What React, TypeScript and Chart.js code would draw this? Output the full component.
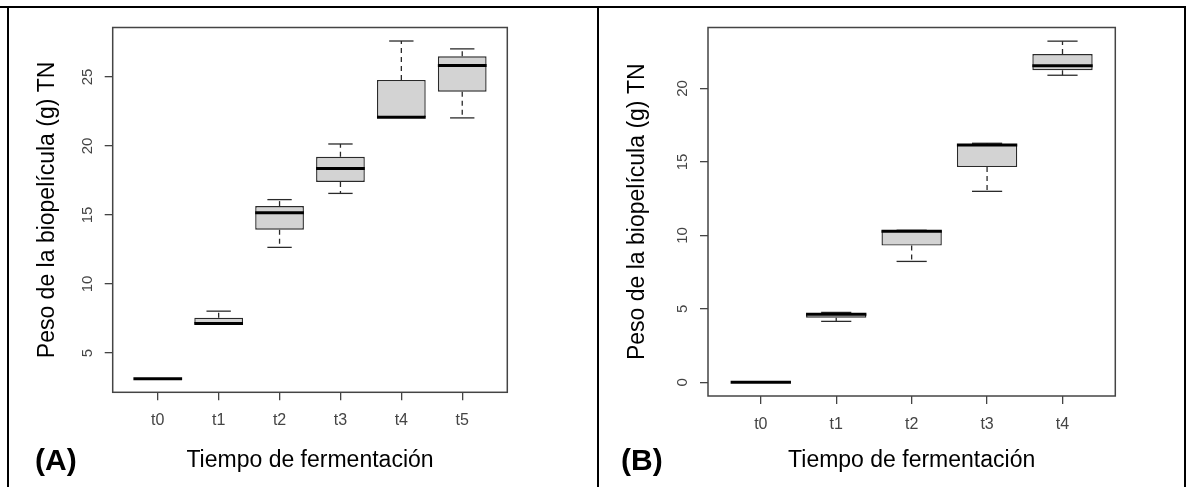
import React, { useEffect, useRef } from "react";
import { Chart, registerables } from "chart.js";

Chart.register(...registerables);

// ---------- Data ----------
const catsA = ["t0", "t1", "t2", "t3", "t4", "t5"];
const minA = [3.13, 7.11, 12.65, 16.56, 22.08, 22.03];
const q1A = [3.13, 7.11, 13.93, 17.39, 22.08, 23.93];
const medA = [3.13, 7.13, 15.16, 18.36, 22.08, 25.82];
const q3A = [3.13, 7.56, 15.64, 19.21, 24.78, 26.49];
const maxA = [3.13, 8.03, 16.11, 20.14, 27.6, 27.03];
const yTicksA = [5, 10, 15, 20, 25];

const catsB = ["t0", "t1", "t2", "t3", "t4"];
const minB = [0, 4.15, 8.23, 13.0, 20.9];
const q1B = [0, 4.4, 9.31, 14.65, 21.24];
const medB = [0, 4.64, 10.28, 16.15, 21.55];
const q3B = [0, 4.68, 10.35, 16.2, 22.34];
const maxB = [0, 4.76, 10.35, 16.27, 23.22];
const yTicksB = [0, 5, 10, 15, 20];

const yTitle = "Peso de la biopelícula (g) TN";
const xTitle = "Tiempo de fermentación";
const panelLabels = ["(A)", "(B)"];

const FAMILY = "'Liberation Sans', Arial, Helvetica, sans-serif";

type Stats = {
  cats: string[];
  mins: number[];
  q1s: number[];
  meds: number[];
  q3s: number[];
  maxs: number[];
  yTicks: number[];
};

type Layout = {
  width: number;
  height: number;
  padTop: number;
  padRight: number;
  yWidth: number;
  xHeight: number;
};

function makeBoxPlugin(st: Stats) {
  return {
    id: "boxExtras",
    afterDatasetsDraw(chart: any) {
      const { ctx, chartArea } = chart;
      const y = chart.scales.y;
      const meta = chart.getDatasetMeta(0);
      ctx.save();
      const line = (x1: number, y1: number, x2: number, y2: number) => {
        ctx.beginPath();
        ctx.moveTo(x1, y1);
        ctx.lineTo(x2, y2);
        ctx.stroke();
      };
      st.cats.forEach((_c, i) => {
        const el = meta.data[i];
        const { x: cx, width: w } = el.getProps(["x", "width"], true);
        const half = w / 2;
        const cap = w / 4;
        const yMin = y.getPixelForValue(st.mins[i]);
        const yQ1 = y.getPixelForValue(st.q1s[i]);
        const yMed = y.getPixelForValue(st.meds[i]);
        const yQ3 = y.getPixelForValue(st.q3s[i]);
        const yMax = y.getPixelForValue(st.maxs[i]);
        ctx.strokeStyle = "#2a2a2a";
        ctx.lineWidth = 1.3;
        ctx.setLineDash([5, 4]);
        if (yQ3 - yMax > 0.5) line(cx, yQ3, cx, yMax);
        if (yMin - yQ1 > 0.5) line(cx, yQ1, cx, yMin);
        ctx.setLineDash([]);
        line(cx - cap, yMax, cx + cap, yMax);
        line(cx - cap, yMin, cx + cap, yMin);
        ctx.strokeStyle = "#000";
        ctx.lineWidth = 3;
        line(cx - half, yMed, cx + half, yMed);
      });
      ctx.strokeStyle = "#444";
      ctx.lineWidth = 1.5;
      ctx.strokeRect(
        chartArea.left,
        chartArea.top,
        chartArea.right - chartArea.left,
        chartArea.bottom - chartArea.top
      );
      ctx.restore();
    },
  };
}

function BoxChart({ st, lay }: { st: Stats; lay: Layout }) {
  const ref = useRef<HTMLCanvasElement | null>(null);
  useEffect(() => {
    if (!ref.current) return;
    const n = st.cats.length;
    const all = [...st.mins, ...st.maxs];
    const lo = Math.min(...all);
    const hi = Math.max(...all);
    const pad = 0.04 * (hi - lo);
    const chart = new Chart(ref.current, {
      type: "bar",
      data: {
        datasets: [
          {
            data: st.cats.map((_c, i) => ({ x: i + 1, y: [st.q1s[i], st.q3s[i]] })) as any,
            backgroundColor: "#d3d3d3",
            borderColor: "#2a2a2a",
            borderWidth: 1.4,
            borderSkipped: false,
            categoryPercentage: 1,
            barPercentage: 0.8,
          },
        ],
      },
      options: {
        animation: false,
        responsive: false,
        devicePixelRatio: 1,
        layout: { padding: { top: lay.padTop, right: lay.padRight, left: 0, bottom: 0 } },
        plugins: { legend: { display: false }, tooltip: { enabled: false } },
        scales: {
          x: {
            type: "linear",
            min: 0.5 - 0.04 * n,
            max: n + 0.5 + 0.04 * n,
            offset: false,
            afterBuildTicks: (s: any) => {
              s.ticks = st.cats.map((_c, i) => ({ value: i + 1 }));
            },
            afterFit: (s: any) => {
              s.height = lay.xHeight;
            },
            ticks: {
              callback: (v: any) => st.cats[Math.round(v) - 1] ?? "",
              font: { size: 16, family: FAMILY },
              color: "#444",
              padding: 11,
              maxRotation: 0,
              autoSkip: false,
            },
            grid: {
              display: true,
              drawOnChartArea: false,
              drawTicks: true,
              tickLength: 8,
              color: "#444",
              lineWidth: 1.3,
              offset: false,
            },
            border: { display: false },
            title: {
              display: true,
              text: xTitle,
              font: { size: 23, family: FAMILY },
              color: "#000",
              padding: { top: 0, bottom: 6 },
            },
          } as any,
          y: {
            type: "linear",
            min: lo - pad,
            max: hi + pad,
            afterBuildTicks: (s: any) => {
              s.ticks = st.yTicks.map((v) => ({ value: v }));
            },
            afterFit: (s: any) => {
              s.width = lay.yWidth;
            },
            ticks: {
              minRotation: 90,
              maxRotation: 90,
              crossAlign: "center",
              padding: 8.5,
              font: { size: 15, family: FAMILY },
              color: "#444",
              autoSkip: false,
            },
            grid: {
              display: true,
              drawOnChartArea: false,
              drawTicks: true,
              tickLength: 8,
              color: "#444",
              lineWidth: 1.3,
            },
            border: { display: false },
            title: {
              display: true,
              text: yTitle,
              font: { size: 23, family: FAMILY },
              color: "#000",
              padding: { top: 24, bottom: 0 },
            },
          } as any,
        },
      },
      plugins: [makeBoxPlugin(st)],
    });
    return () => chart.destroy();
  }, [st, lay]);
  return <canvas ref={ref} width={lay.width} height={lay.height} style={{ display: "block" }} />;
}

const statsA: Stats = { cats: catsA, mins: minA, q1s: q1A, meds: medA, q3s: q3A, maxs: maxA, yTicks: yTicksA };
const statsB: Stats = { cats: catsB, mins: minB, q1s: q1B, meds: medB, q3s: q3B, maxs: maxB, yTicks: yTicksB };
const layA: Layout = { width: 580, height: 470, padTop: 10, padRight: 82.7, yWidth: 102.7, xHeight: 87.7 };
const layB: Layout = { width: 580, height: 470, padTop: 15, padRight: 64.7, yWidth: 108, xHeight: 84 };

export default function App() {
  const line = (l: number, t: number, w: number, h: number) => ({
    position: "absolute" as const,
    left: l,
    top: t,
    width: w,
    height: h,
    background: "#000",
  });
  const lbl = (l: number) => ({
    position: "absolute" as const,
    left: l,
    top: 443,
    lineHeight: "34px",
    fontSize: 30,
    fontWeight: "bold" as const,
    fontFamily: FAMILY,
    color: "#000",
  });
  return (
    <div
      style={{
        position: "fixed",
        left: 0,
        top: 0,
        width: 1186,
        height: 487,
        background: "#fff",
        overflow: "hidden",
      }}
    >
      <div style={{ position: "absolute", left: 10, top: 10 }}>
        <BoxChart st={statsA} lay={layA} />
      </div>
      <div style={{ position: "absolute", left: 600, top: 10 }}>
        <BoxChart st={statsB} lay={layB} />
      </div>
      <div style={lbl(35)}>{panelLabels[0]}</div>
      <div style={lbl(621)}>{panelLabels[1]}</div>
      <div style={line(0, 6, 1186, 2)} />
      <div style={line(7, 6, 2, 481)} />
      <div style={line(597, 6, 2, 481)} />
      <div style={line(1184, 6, 2, 481)} />
    </div>
  );
}
